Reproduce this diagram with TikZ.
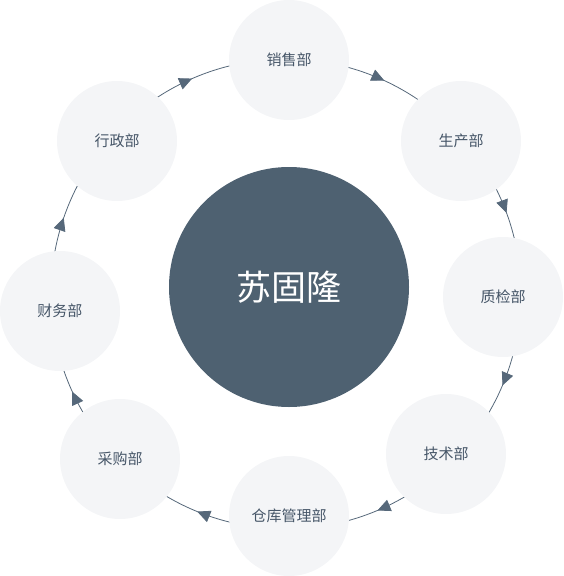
\documentclass[tikz,border=0pt]{standalone}
\usepackage{fontspec}
\setmainfont{Noto Sans CJK SC}
\usetikzlibrary{arrows.meta,decorations.markings}
\definecolor{hubcol}{HTML}{4E6171}
\definecolor{deptfill}{HTML}{F4F5F7}
\definecolor{depttext}{HTML}{465668}
\definecolor{linecol}{HTML}{56687A}
\begin{document}
\begin{tikzpicture}[x=1pt,y=-1pt,
  dept/.style={circle,fill=deptfill,minimum size=120pt,inner sep=0pt,text=depttext,font=\fontsize{15}{15}\selectfont},
  hub/.style={circle,fill=hubcol,minimum size=240pt,inner sep=0pt,text=white,font=\fontsize{35}{35}\selectfont},
  flow/.style={draw=linecol,line width=0.8pt,postaction={decorate},
    decoration={markings,mark=at position 0.5 with {\arrow[linecol]{Triangle[length=13pt,width=12pt]}}}}
]
\useasboundingbox (0,0) rectangle (563,576);
\coordinate (o) at (286,294);
% ring segments between consecutive departments (clockwise)
\foreach \a/\b in {-89.3/-41.2, -41.2/0.8, 0.8/45, 45/89.2, 89.2/135.2, 135.2/175.7, 175.7/222.2, 222.2/270.7}
  \draw[flow] (o) ++(\a:235) arc[start angle=\a, end angle=\b, radius=235];
\node[hub] (c) at (289,287) {苏固隆};
\node[dept] (s) at (289,60) {销售部};
\node[dept] (p) at (461,141) {生产部};
\node[dept] (q) at (503,297) {质检部};
\node[dept] (t) at (446,454) {技术部};
\node[dept] (w) at (289,516) {仓库管理部};
\node[dept] (b) at (120,459) {采购部};
\node[dept] (f) at (60,311) {财务部};
\node[dept] (a) at (117,141) {行政部};
\end{tikzpicture}
\end{document}
